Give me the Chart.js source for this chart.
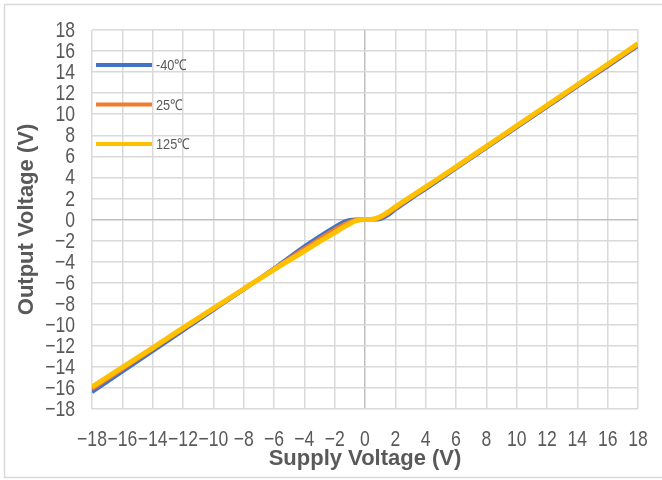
<!DOCTYPE html>
<html>
<head>
<meta charset="utf-8">
<title>Output vs Supply Voltage</title>
<script src="https://cdn.jsdelivr.net/npm/chart.js@4.4.0/dist/chart.umd.min.js"></script>
<style>
    html, body { margin: 0; padding: 0; background: #fff; }
    #wrap { width: 662px; height: 480px; }
</style>
</head>
<body>
<div id="wrap"><canvas id="chart" width="662" height="480"></canvas></div>
<script>
// Supply voltage sample points (V)
const supplyV = [-18, -16, -14, -12, -10, -8, -6, -4, -3, -2, -1.5, -1, -0.6, -0.3, 0, 0.3, 0.6, 1, 1.5, 2, 3, 4, 6, 8, 10, 12, 14, 16, 18];

// Output voltage per temperature (V)
const outM40 = [-16.4, -14.45, -12.5, -10.55, -8.6, -6.65, -4.65, -2.55, -1.6, -0.7, -0.3, -0.05, 0, 0, 0, 0, 0, 0.05, 0.4, 0.95, 1.95, 2.9, 4.85, 6.8, 8.75, 10.7, 12.65, 14.55, 16.5];
const out25  = [-16.1, -14.2, -12.3, -10.4, -8.5, -6.6, -4.7, -2.75, -1.85, -0.95, -0.55, -0.2, -0.04, 0, 0, 0, 0.02, 0.15, 0.55, 1.05, 2.05, 3.0, 4.93, 6.88, 8.83, 10.78, 12.73, 14.65, 16.6];
const out125 = [-15.9, -14.05, -12.2, -10.3, -8.45, -6.6, -4.75, -3.0, -2.1, -1.25, -0.8, -0.4, -0.12, -0.02, 0, 0, 0.05, 0.25, 0.7, 1.2, 2.15, 3.1, 5.0, 6.95, 8.9, 10.85, 12.8, 14.75, 16.7];

const seriesNames = ['-40\u2103', '25\u2103', '125\u2103'];
const seriesColors = ['#4472C4', '#ED7D31', '#FFC000'];

// Tick labels on both axes
const tickValues = [-18, -16, -14, -12, -10, -8, -6, -4, -2, 0, 2, 4, 6, 8, 10, 12, 14, 16, 18];

const tickFontCss = '22px "Liberation Sans", Arial, sans-serif';
const narrow = 0.8;  // squeeze to look like the condensed face of the original
const titleFont = { family: '"Liberation Sans", Arial, sans-serif', size: 22, weight: 'bold', lineHeight: 1.2 };
const gridColor = ctx => (ctx.tick && ctx.tick.value === 0) ? '#bfbfbf' : '#d9d9d9';

function toPoints(ys) {
    return supplyV.map((x, i) => ({ x: x, y: ys[i] }));
}

function tickText(v) {
    return String(v).replace('-', '\u2212');
}

// light frame round the whole figure
const framePlugin = {
    id: 'frame',
    beforeDraw(chart) {
        const c = chart.ctx;
        c.save();
        c.strokeStyle = '#d9d9d9';
        c.lineWidth = 1.5;
        c.strokeRect(4.5, 4.5, 680, 473);
        c.restore();
    }
};

// narrow tick labels, placed through the scales
const narrowTicksPlugin = {
    id: 'narrowTicks',
    afterDraw(chart) {
        const c = chart.ctx;
        const area = chart.chartArea;
        const xs = chart.scales.x;
        const ys = chart.scales.y;
        c.save();
        c.fillStyle = '#595959';
        c.font = tickFontCss;
        c.textBaseline = 'middle';
        tickValues.forEach(v => {
            c.save();
            c.translate(xs.getPixelForValue(v), area.bottom + 31);
            c.scale(narrow, 1);
            c.textAlign = 'center';
            c.fillText(tickText(v), 0, 0);
            c.restore();

            c.save();
            c.translate(area.left - 17, ys.getPixelForValue(v) + 1);
            c.scale(narrow, 1);
            c.textAlign = 'right';
            c.fillText(tickText(v), 0, 0);
            c.restore();
        });
        c.restore();
    }
};

// legend drawn inside the plot area, stacked vertically
const legendPlugin = {
    id: 'insideLegend',
    afterDatasetsDraw(chart) {
        const c = chart.ctx;
        const area = chart.chartArea;
        c.save();
        seriesNames.forEach((name, i) => {
            const y = area.top + 35 + i * 39.5;
            c.strokeStyle = seriesColors[i];
            c.lineWidth = 4;
            c.beginPath();
            c.moveTo(area.left + 4, y);
            c.lineTo(area.left + 60, y);
            c.stroke();
            c.save();
            c.translate(area.left + 64, y + 1);
            c.scale(0.85, 1);
            c.fillStyle = '#595959';
            c.font = '15px "Liberation Sans", Arial, sans-serif';
            c.textBaseline = 'middle';
            c.fillText(name, 0, 0);
            c.restore();
        });
        c.restore();
    }
};

const ctx = document.getElementById('chart').getContext('2d');
const chart = new Chart(ctx, {
    type: 'line',
    data: {
        datasets: [
            { label: seriesNames[0], data: toPoints(outM40), borderColor: seriesColors[0], borderWidth: 4, order: 3 },
            { label: seriesNames[1], data: toPoints(out25), borderColor: seriesColors[1], borderWidth: 4, order: 2 },
            { label: seriesNames[2], data: toPoints(out125), borderColor: seriesColors[2], borderWidth: 5, order: 1 }
        ]
    },
    options: {
        responsive: false,
        animation: false,
        layout: { padding: { left: 0, top: 30, right: 24, bottom: 0 } },
        elements: {
            point: { radius: 0 },
            line: { cubicInterpolationMode: 'monotone', borderCapStyle: 'butt' }
        },
        plugins: {
            legend: { display: false },
            tooltip: { enabled: false }
        },
        scales: {
            x: {
                type: 'linear',
                min: -18,
                max: 18,
                afterBuildTicks: scale => { scale.ticks = tickValues.map(v => ({ value: v })); },
                afterFit: scale => { scale.height = 71; scale.paddingLeft = 0; scale.paddingRight = 0; },
                grid: { color: gridColor, lineWidth: 1.5, drawTicks: false },
                border: { display: false },
                ticks: { display: false },
                title: {
                    display: true,
                    text: 'Supply Voltage (V)',
                    color: '#595959',
                    font: titleFont,
                    padding: { top: 0, bottom: 8 }
                }
            },
            y: {
                type: 'linear',
                min: -18,
                max: 18,
                afterBuildTicks: scale => { scale.ticks = tickValues.map(v => ({ value: v })); },
                afterFit: scale => { scale.width = 92; scale.paddingTop = 0; scale.paddingBottom = 0; },
                grid: { color: gridColor, lineWidth: 1.5, drawTicks: false },
                border: { display: false },
                ticks: { display: false },
                title: {
                    display: true,
                    text: 'Output Voltage (V)',
                    color: '#595959',
                    font: titleFont,
                    padding: { top: 14, bottom: 0 }
                }
            }
        }
    },
    plugins: [framePlugin, narrowTicksPlugin, legendPlugin]
});
</script>
</body>
</html>
